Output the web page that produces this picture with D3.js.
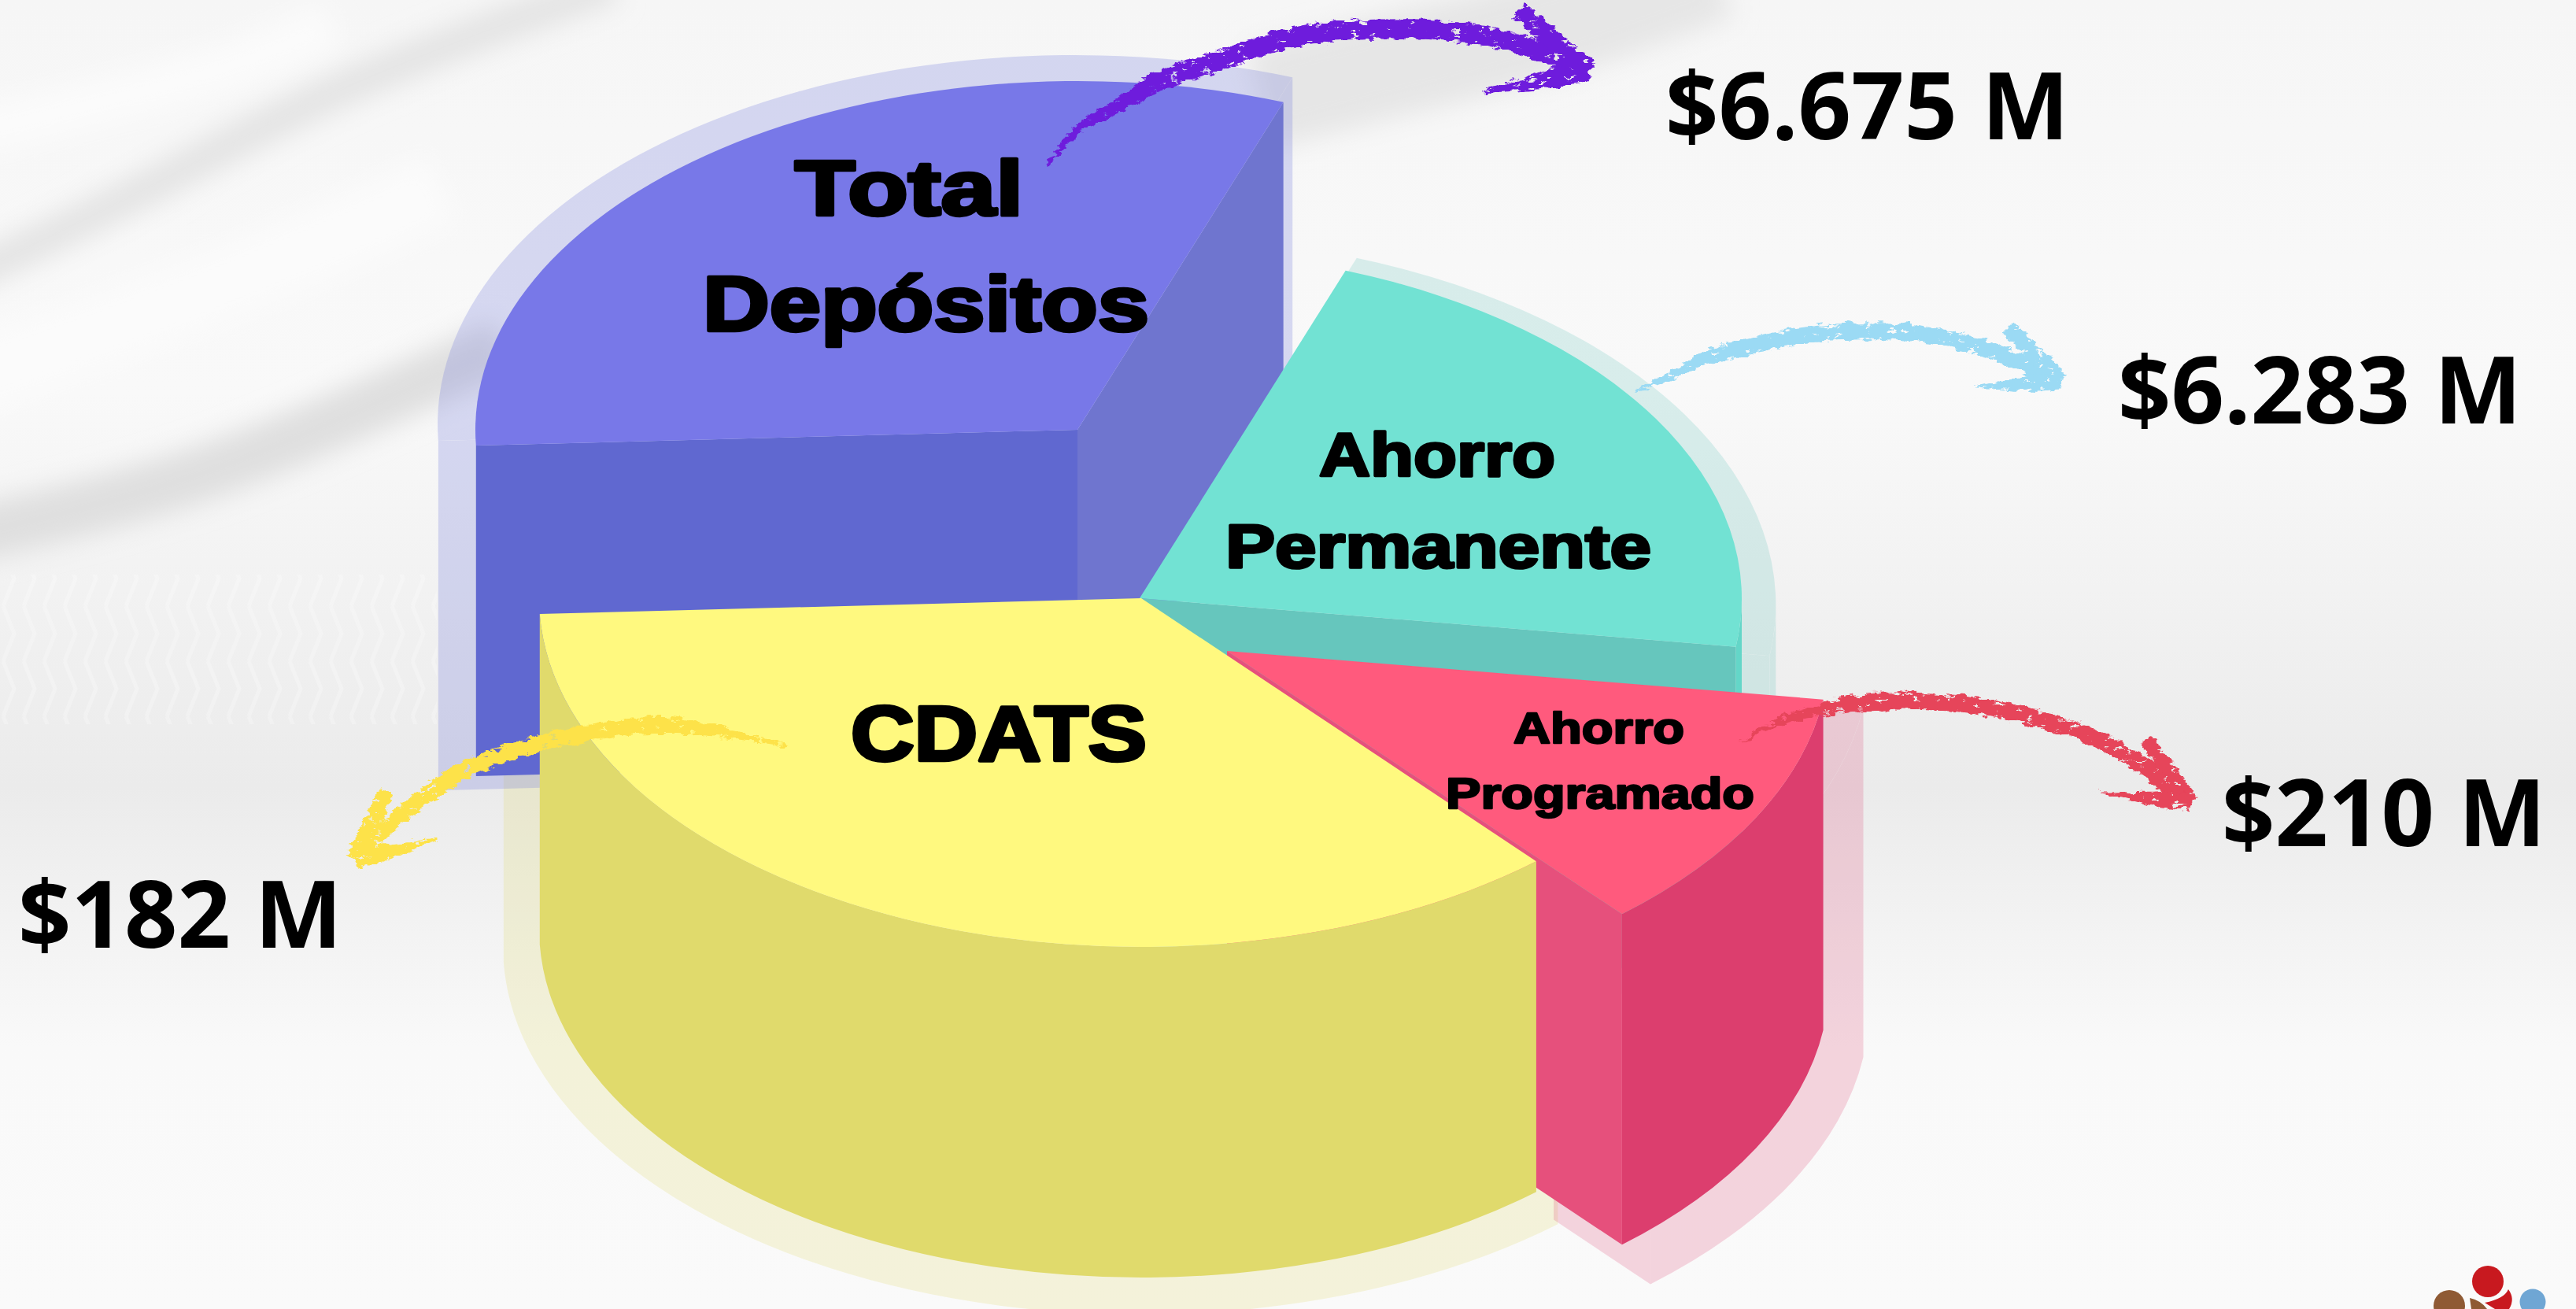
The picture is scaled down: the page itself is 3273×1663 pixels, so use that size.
<!DOCTYPE html>
<html>
<head>
<meta charset="utf-8">
<title>Depósitos</title>
<script src="https://cdn.jsdelivr.net/npm/d3@7"></script>
<style>
  html, body { margin: 0; padding: 0; background: #f6f6f6; }
  svg { display: block; }
</style>
</head>
<body>
<div id="chart"></div>
<script>
// values
const categories = ['Total Depósitos', 'Ahorro Permanente', 'Ahorro Programado', 'CDATS']
const sliceDegrees = [112.6, 78, 41, 128.4]
const amounts = ['$6.675 M', '$6.283 M', '$210 M', '$182 M']
const labelLines = [['Total', 'Depósitos'], ['Ahorro', 'Permanente'], ['Ahorro', 'Programado'], ['CDATS']]

const WIDTH = 3273
const HEIGHT = 1663
const START_DEG = 267.4

// shared ellipse of the tilted pie
const RX = 765
const RY = 443
const DEPTH = 420
const SQUASH = RY / RX
const rad = d => d * Math.PI / 180

// one layout per slice: exploded centre, origin of the pale halo
const LAYOUT = [
	{ cx: 1369, cy: 546, hx: 1431, hy: 672 },
	{ cx: 1448, cy: 760, hx: 1466, hy: 620 },
	{ cx: 1559, cy: 827, hx: 1438, hy: 717 },
	{ cx: 1450, cy: 760, hx: 1478, hy: 810 }
]
const FACES = [
	{ top: '#7878e8', start: '#6068d0', end: '#6f75cf', outer: '#6068d0', halo: '#7078dc', haloOpacity: 0.25, showOuter: false },
	{ top: '#72e2d3', start: null, end: '#66c6bd', outer: '#64d6c8', halo: '#66c6bd', haloOpacity: 0.22, showOuter: true },
	{ top: '#ff5a7d', start: null, end: '#e6507c', outer: '#dc3e6e', halo: '#dc3e6e', haloOpacity: 0.2, showOuter: true },
	{ top: '#fff97f', start: null, end: null, outer: '#e0da6c', halo: '#e0da6c', haloOpacity: 0.22, showOuter: true }
]

const LABEL_POS = [
	[{ x0: 1010, x1: 1300, y: 273, size: 98 }, { x0: 893, x1: 1460, y: 420, size: 98 }],
	[{ x0: 1676, x1: 1976, y: 605, size: 78 }, { x0: 1557, x1: 2098, y: 721, size: 78 }],
	[{ x0: 1923, x1: 2140, y: 944, size: 56 }, { x0: 1837, x1: 2229, y: 1027, size: 56 }],
	[{ x0: 1081, x1: 1457, y: 966, size: 98 }]
]
const AMOUNT_POS = [[2116, 177], [2691, 538], [2823, 1075], [23, 1204]]

// hand drawn arrows (decoration, not data)
const ARROWS = [
	{ color: '#6e1bdc', w: 25, tip: [2018, 90], upper: [1930, 13], lower: [1882, 117],
		pts: [[1331, 210], [1371, 163], [1422, 133], [1473, 103], [1555, 75], [1606, 57], [1667, 43], [1759, 37], [1836, 39], [1902, 50], [1963, 67], [2018, 90]] },
	{ color: '#9bdaf4', w: 21, tip: [2618, 484], upper: [2551, 415], lower: [2509, 492],
		pts: [[2077, 497], [2119, 480], [2165, 455], [2222, 440], [2280, 427], [2329, 422], [2421, 422], [2482, 432], [2547, 452], [2618, 484]] },
	{ color: '#e6445a', w: 21, tip: [2783, 1020], upper: [2728, 940], lower: [2670, 1007],
		pts: [[2212, 943], [2259, 917], [2315, 902], [2358, 893], [2457, 892], [2516, 897], [2595, 915], [2655, 935], [2714, 967], [2783, 1020]] },
	{ color: '#fde24a', w: 21, tip: [450, 1092], upper: [491, 1006], lower: [555, 1067],
		pts: [[1000, 948], [861, 922], [753, 930], [606, 971], [510, 1035], [450, 1092]] }
]

const svg = d3.select('#chart').append('svg')
	.attr('width', WIDTH)
	.attr('height', HEIGHT)
	.attr('viewBox', `0 0 ${WIDTH} ${HEIGHT}`)

const defs = svg.append('defs')

// ─── BACKGROUND ──────────────────────────────────────────────
const bgGrad = defs.append('linearGradient').attr('id', 'bg').attr('x1', 0).attr('x2', 0).attr('y1', 0).attr('y2', 1)
const bgStops = [[0, '#f6f6f6'], [0.3, '#f9f9f9'], [0.45, '#f2f2f2'], [0.6, '#ebebeb'], [0.7, '#f2f2f2'], [0.8, '#f9f9f9'], [1, '#fafafa']]
bgGrad.selectAll('stop').data(bgStops).join('stop')
	.attr('offset', d => d[0])
	.attr('stop-color', d => d[1])

defs.append('filter').attr('id', 'soft').attr('x', '-20%').attr('y', '-20%').attr('width', '140%').attr('height', '140%')
	.append('feGaussianBlur').attr('stdDeviation', 16)

const zig = defs.append('pattern').attr('id', 'zig').attr('patternUnits', 'userSpaceOnUse').attr('width', 26).attr('height', 70)
zig.append('path').attr('d', 'M4 0 L18 35 L4 70').attr('fill', 'none').attr('stroke', '#ffffff').attr('stroke-width', 5)

svg.append('rect').attr('width', WIDTH).attr('height', HEIGHT).attr('fill', 'url(#bg)')

const folds = svg.append('g').attr('filter', 'url(#soft)')
const foldLine = d3.line().curve(d3.curveBasis)
const FOLDS = [
	{ pts: [[-40, 350], [200, 235], [408, 118], [663, 22], [780, -20]], w: 46, c: '#e4e4e4' },
	{ pts: [[-40, 680], [255, 612], [510, 497], [640, 440]], w: 70, c: '#dfdfdf' },
	{ pts: [[1600, 125], [1800, 75], [1980, 35], [2180, -40]], w: 130, c: '#e6e6e6' },
	{ pts: [[-40, 170], [300, 90], [420, 30]], w: 60, c: '#fbfbfb' },
	{ pts: [[-40, 480], [300, 360], [560, 240]], w: 90, c: '#fbfbfb' }
]
folds.selectAll('path').data(FOLDS).join('path')
	.attr('d', d => foldLine(d.pts))
	.attr('fill', 'none')
	.attr('stroke', d => d.c)
	.attr('stroke-width', d => d.w)

svg.append('rect').attr('x', 0).attr('y', 730).attr('width', 555).attr('height', 190)
	.attr('fill', 'url(#zig)').attr('opacity', 0.22)

// ─── PIE ─────────────────────────────────────────────────────
const slices = d3.pie().sort(null)
	.startAngle(rad(START_DEG))
	.endAngle(rad(START_DEG) + 2 * Math.PI)(sliceDegrees)

const topArc = d3.arc().innerRadius(0).outerRadius(RX)
const depthUp = DEPTH / SQUASH  // depth inside the squashed group

function radialFace(a) {
	const p = d3.path()
	const x = RX * Math.sin(a)
	const y = -RX * Math.cos(a)
	p.moveTo(0, 0)
	p.lineTo(x, y)
	p.lineTo(x, y + depthUp)
	p.lineTo(0, depthUp)
	p.closePath()
	return p.toString()
}

// only the part facing the viewer, between 90 and 270 degrees
function outerWall(a0, a1) {
	let from = a0
	let to = a1
	const turn = 2 * Math.PI
	while (from > 1.5 * Math.PI) { from -= turn; to -= turn }
	if (to > 1.5 * Math.PI) to = 1.5 * Math.PI
	if (from < 0.5 * Math.PI) from = 0.5 * Math.PI
	if (to <= from) return null
	const p = d3.path()
	p.arc(0, 0, RX, from - Math.PI / 2, to - Math.PI / 2)
	p.lineTo(RX * Math.sin(to), -RX * Math.cos(to) + depthUp)
	p.arc(0, depthUp, RX, to - Math.PI / 2, from - Math.PI / 2, true)
	p.closePath()
	return p.toString()
}

function drawSlice(g, d, i, flat) {
	const f = FACES[i]
	const fill = c => flat ? f.halo : c
	if (f.start) g.append('path').attr('d', radialFace(d.startAngle)).attr('fill', fill(f.start))
	if (f.end) g.append('path').attr('d', radialFace(d.endAngle)).attr('fill', fill(f.end))
	if (f.showOuter) {
		const wall = outerWall(d.startAngle, d.endAngle)
		if (wall) g.append('path').attr('d', wall).attr('fill', fill(f.outer))
	}
	g.append('path').attr('d', topArc(d)).attr('fill', fill(f.top))
}

const HALO_SCALE = 1.058
const sliceGroup = (parent, i) => parent.append('g')
	.attr('transform', `translate(${LAYOUT[i].cx},${LAYOUT[i].cy}) scale(1,${SQUASH})`)

// the red halo stops where the yellow one ends
defs.append('clipPath').attr('id', 'redHalo')
	.append('rect').attr('x', 1974).attr('y', 0).attr('width', WIDTH).attr('height', HEIGHT)

// halos first, then faces back to front
const haloLayer = svg.append('g')
const haloOrder = [3, 0, 1, 2]
haloOrder.forEach(i => {
	const l = LAYOUT[i]
	const clip = haloLayer.append('g').attr('clip-path', i === 2 ? 'url(#redHalo)' : null)
	const g = clip.append('g')
		.attr('opacity', FACES[i].haloOpacity)
		.attr('transform', `translate(${l.hx},${l.hy}) scale(${HALO_SCALE}) translate(${-l.hx},${-l.hy})`)
	drawSlice(sliceGroup(g, i), slices[i], i, true)
})

const pieLayer = svg.append('g')
const drawOrder = [0, 1, 2, 3]
drawOrder.forEach(i => drawSlice(sliceGroup(pieLayer, i), slices[i], i, false))

// ─── ARROWS ──────────────────────────────────────────────────
// brush look: noise punches small holes, then shakes the edges
const rough = defs.append('filter').attr('id', 'rough')
	.attr('filterUnits', 'userSpaceOnUse').attr('x', 0).attr('y', 0).attr('width', WIDTH).attr('height', HEIGHT)
rough.append('feTurbulence').attr('type', 'fractalNoise').attr('baseFrequency', '0.07 0.16').attr('numOctaves', 3).attr('seed', 4).attr('result', 'n')
rough.append('feColorMatrix').attr('in', 'n').attr('type', 'matrix')
	.attr('values', '0 0 0 0 0  0 0 0 0 0  0 0 0 0 0  0 0 0 16 -4.2').attr('result', 'holes')
rough.append('feComposite').attr('in', 'SourceGraphic').attr('in2', 'holes').attr('operator', 'in').attr('result', 'cut')
rough.append('feDisplacementMap').attr('in', 'cut').attr('in2', 'n').attr('scale', 12)
	.attr('xChannelSelector', 'R').attr('yChannelSelector', 'G')

const tmp = svg.append('path').attr('fill', 'none')
const smooth = d3.line().curve(d3.curveCatmullRom)
const closed = d3.line().curve(d3.curveLinearClosed)

function tapered(points, widthAt) {
	tmp.attr('d', smooth(points))
	const node = tmp.node()
	const len = node.getTotalLength()
	const left = []
	const right = []
	d3.range(0, 61).forEach(k => {
		const t = k / 60
		const a = node.getPointAtLength(Math.max(0, t * len - 1))
		const b = node.getPointAtLength(Math.min(len, t * len + 1))
		const m = node.getPointAtLength(t * len)
		const dx = b.x - a.x
		const dy = b.y - a.y
		const n = Math.hypot(dx, dy) || 1
		const w = widthAt(t) / 2
		left.push([m.x - dy / n * w, m.y + dx / n * w])
		right.push([m.x + dy / n * w, m.y - dx / n * w])
	})
	return closed(left.concat(right.reverse()))
}

const arrowLayer = svg.append('g').attr('filter', 'url(#rough)')
ARROWS.forEach(a => {
	arrowLayer.append('path')
		.attr('d', tapered(a.pts, t => a.w * Math.min(1, 0.12 + t / 0.28)))
		.attr('fill', a.color)
	arrowLayer.append('path')
		.attr('d', tapered([a.upper, a.tip], t => a.w * (0.85 + 0.25 * t)))
		.attr('fill', a.color)
	arrowLayer.append('path')
		.attr('d', tapered([a.lower, a.tip], t => a.w * Math.min(1, t * 1.4 + 0.04)))
		.attr('fill', a.color)
})
tmp.remove()

// ─── TEXT ────────────────────────────────────────────────────
const textLayer = svg.append('g')
labelLines.forEach((lines, i) => {
	lines.forEach((line, j) => {
		const p = LABEL_POS[i][j]
		textLayer.append('text')
			.attr('x', p.x0)
			.attr('y', p.y)
			.attr('textLength', p.x1 - p.x0)
			.attr('lengthAdjust', 'spacingAndGlyphs')
			.attr('font-family', '"Liberation Sans", Arial, sans-serif')
			.attr('font-weight', 700)
			.attr('font-size', p.size)
			.attr('fill', '#000')
			.attr('stroke', '#000')
			.attr('stroke-width', p.size * 0.045)
			.attr('stroke-linejoin', 'round')
			.text(line)
	})
})

textLayer.selectAll('.amount').data(amounts).join('text')
	.attr('class', 'amount')
	.attr('x', (d, i) => AMOUNT_POS[i][0])
	.attr('y', (d, i) => AMOUNT_POS[i][1])
	.attr('font-family', '"Open Sans", sans-serif')
	.attr('font-weight', 700)
	.attr('font-size', 118)
	.attr('fill', '#000')
	.text(d => d)

// ─── LOGO ────────────────────────────────────────────────────
const logo = svg.append('g')
const LOGO_DOTS = [
	{ x: 3112, y: 1659, r: 20, c: '#8f5a34' },
	{ x: 3218, y: 1654, r: 16.5, c: '#6fa6d4' },
	{ x: 3161, y: 1628, r: 20, c: '#c8191f' }
]
logo.selectAll('circle').data(LOGO_DOTS).join('circle')
	.attr('cx', d => d.x).attr('cy', d => d.y).attr('r', d => d.r).attr('fill', d => d.c)
logo.append('path').attr('d', 'M3157 1655 Q3182 1650 3187 1638 Q3196 1650 3188 1663 L3170 1663 Z').attr('fill', '#c8191f')
logo.append('path').attr('d', 'M3138 1649 Q3152 1652 3160 1663 L3140 1663 Z').attr('fill', '#8f5a34')
</script>
</body>
</html>
